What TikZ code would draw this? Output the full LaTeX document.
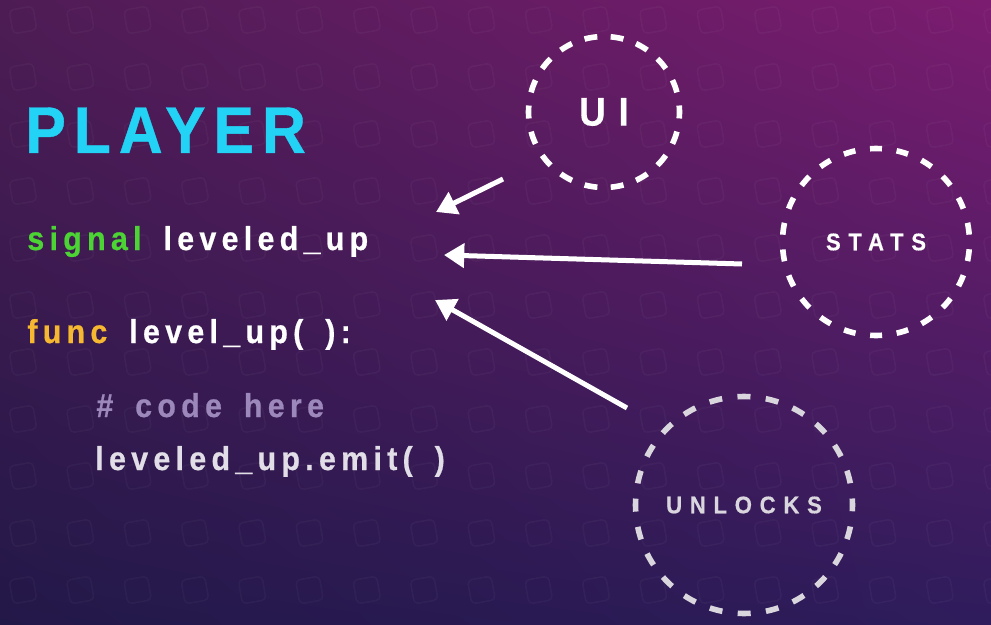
\documentclass[tikz,border=0pt]{standalone}
\usepackage{fontspec}
\usetikzlibrary{arrows.meta, positioning, shadings}

\newfontfamily\titlefont[FakeStretch=0.92, LetterSpace=12, BoldFeatures={FakeBold=0.6}]{Liberation Sans}
\newfontfamily\slidefont[FakeStretch=0.92, LetterSpace=16, WordSpace=1.6, BoldFeatures={FakeBold=0.6}]{Liberation Sans}
\newfontfamily\ringfont[FakeStretch=0.92, LetterSpace=32, BoldFeatures={FakeBold=0.4}]{Liberation Sans}

\definecolor{playercyan}{RGB}{34,211,246}
\definecolor{signalgreen}{RGB}{76,212,52}
\definecolor{funcorange}{RGB}{245,184,48}
\definecolor{commentgrey}{RGB}{156,136,186}
\definecolor{emitgrey}{RGB}{226,222,232}
\definecolor{unlockgrey}{RGB}{218,214,222}
\definecolor{bgtl}{RGB}{78,28,85}
\definecolor{bgtr}{RGB}{124,28,112}
\definecolor{bgbl}{RGB}{34,24,72}
\definecolor{bgbr}{RGB}{46,28,92}

\tikzset{
  codeline/.style={anchor=base west, inner sep=0pt, text=white},
  ring/.style={circle, draw=white, line width=3.2pt, inner sep=0pt, text=white},
  callarrow/.style={-{Triangle[length=11.5pt, width=13.5pt]}, white, line width=2.85pt},
  bgsquare/.style={draw=white, draw opacity=0.03, line width=0.9pt, rounded corners=2.5pt}
}

\begin{document}
\begin{tikzpicture}[x=0.02cm, y=-0.02cm]
      \useasboundingbox (0,0) rectangle (991,625);

      % background
      \shade[upper left=bgtl, upper right=bgtr, lower left=bgbl, lower right=bgbr] (0,0) rectangle (991,625);
      \begin{scope}
        \clip (0,0) rectangle (991,625);
        \foreach \i in {0,...,17} {
          \foreach \j in {0,...,10} {
            \draw[bgsquare, shift={({23+57.3*\i},{20+57*\j})}, rotate=10] (-12,-12) rectangle (12,12);
          }
        }
      \end{scope}

      % code
      \node[codeline, text=playercyan, font=\titlefont\bfseries\fontsize{37.6}{40}\selectfont] (player) at (25,153) {PLAYER};
      \node[codeline, font=\slidefont\bfseries\fontsize{18.8}{20}\selectfont] (sigline) at (27,250) {\textcolor{signalgreen}{signal} leveled\_up};
      \node[codeline, font=\slidefont\bfseries\fontsize{18.8}{20}\selectfont] (funcline) at (27,343) {\textcolor{funcorange}{func} level\_up( ):};
      \node[codeline, text=commentgrey, font=\slidefont\bfseries\fontsize{18.8}{20}\selectfont] (comment) at (96,417) {\# code here};
      \node[codeline, text=emitgrey, font=\slidefont\bfseries\fontsize{18.8}{20}\selectfont] (emitline) at (95,470) {leveled\_up.emit( )};

      % listeners
      \node[ring, minimum size=3.02cm, dash pattern=on 7.4pt off 7.6pt, dash phase=3.7pt,
            font=\ringfont\bfseries\fontsize{22.8}{24}\selectfont] (ui) at (604,112) {UI};
      \node[ring, minimum size=3.74cm, dash pattern=on 6.8pt off 8.4pt, dash phase=11pt,
            font=\ringfont\bfseries\fontsize{13.7}{15}\selectfont] (stats) at (876,242) {STATS};
      \node[ring, draw=unlockgrey, text=unlockgrey, minimum size=4.34cm, dash pattern=on 7.4pt off 8.77pt, dash phase=3.7pt,
            font=\ringfont\bfseries\fontsize{13.7}{15}\selectfont] (unlocks) at (744,505) {UNLOCKS};

      \coordinate (uifrom) at (503,179);
      \coordinate (uito) at (436,212);
      \coordinate (statsfrom) at (742,264);
      \coordinate (statsto) at (444,255);
      \coordinate (unlocksfrom) at (627,408);
      \coordinate (unlocksto) at (435,300);

      \draw[callarrow] (uifrom) -- (uito);
      \draw[callarrow] (statsfrom) -- (statsto);
      \draw[callarrow] (unlocksfrom) -- (unlocksto);

\end{tikzpicture}
\end{document}
